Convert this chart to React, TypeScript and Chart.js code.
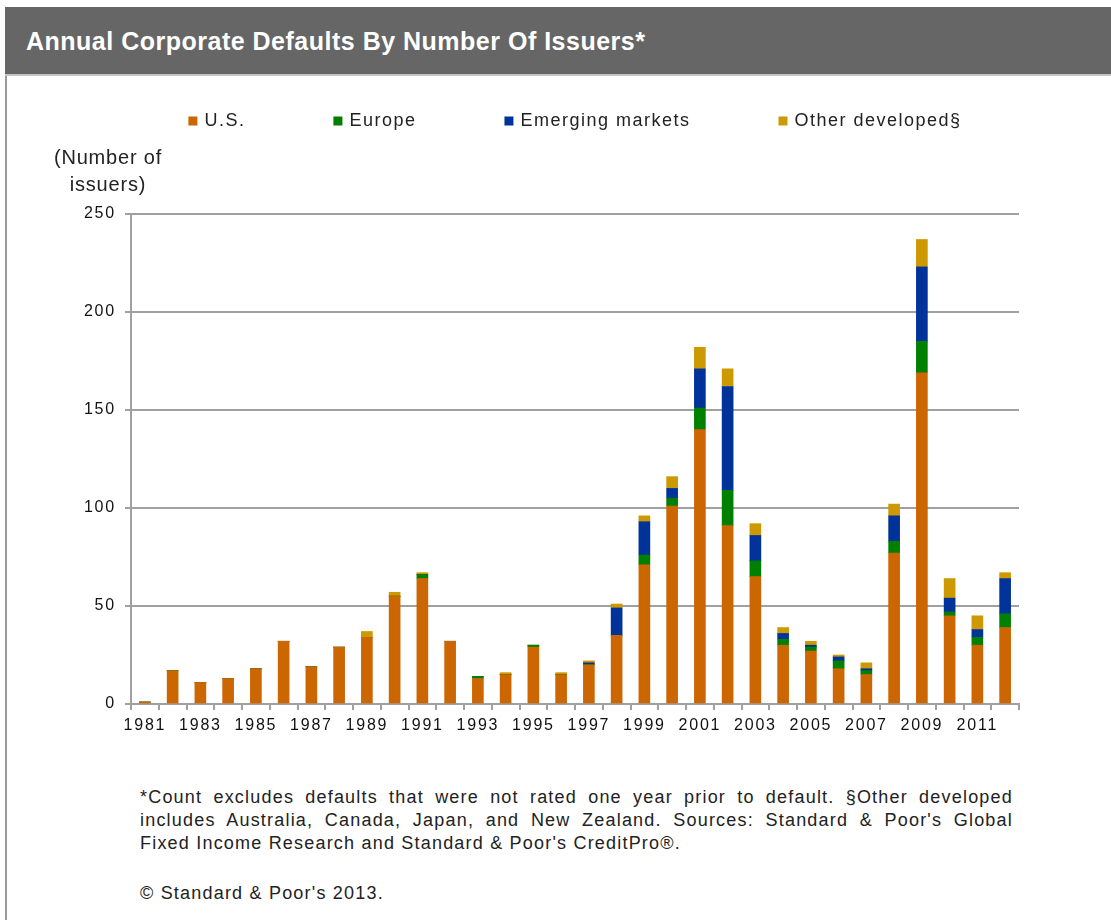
import React, { useEffect, useRef } from 'react';
import { Chart, registerables } from 'chart.js';

Chart.register(...registerables);

// ---- Data ----
const years = [
  '1981', '1982', '1983', '1984', '1985', '1986', '1987', '1988', '1989', '1990',
  '1991', '1992', '1993', '1994', '1995', '1996', '1997', '1998', '1999', '2000',
  '2001', '2002', '2003', '2004', '2005', '2006', '2007', '2008', '2009', '2010',
  '2011', '2012',
];
const usDefaults = [1, 17, 11, 13, 18, 32, 19, 29, 34, 55, 64, 32, 13, 15, 29, 15, 20, 35, 71, 101, 140, 91, 65, 30, 27, 18, 15, 77, 169, 45, 30, 39];
const europeDefaults = [0, 0, 0, 0, 0, 0, 0, 0, 0, 0, 2, 0, 1, 0, 1, 0, 0, 0, 5, 4, 11, 18, 8, 3, 2, 4, 2, 6, 16, 2, 4, 7];
const emergingDefaults = [0, 0, 0, 0, 0, 0, 0, 0, 0, 0, 0, 0, 0, 0, 0, 0, 1, 14, 17, 5, 20, 53, 13, 3, 1, 2, 1, 13, 38, 7, 4, 18];
const otherDefaults = [0, 0, 0, 0, 0, 0, 0, 0, 3, 2, 1, 0, 0, 1, 0, 1, 1, 2, 3, 6, 11, 9, 6, 3, 2, 1, 3, 6, 14, 10, 7, 3];
const seriesLabels = ['U.S.', 'Europe', 'Emerging markets', 'Other developed§'];
const seriesColors = ['#CC6600', '#008000', '#003399', '#CC9900'];
const yMin = 0;
const yMax = 250;
const yStep = 50;

const FONT = '"Liberation Sans", Arial, Helvetica, sans-serif';
const GRID = '#a0a0a0';

const spacingPlugin = {
  id: 'letterSpacing',
  beforeDraw(chart: any) {
    chart.ctx.letterSpacing = '1.8px';
  },
};

const legendPlugin = {
  id: 'customLegend',
  afterDraw(chart: any) {
    const { ctx, chartArea } = chart;
    ctx.save();
    ctx.font = '18px ' + FONT;
    ctx.letterSpacing = '1.5px';
    ctx.textAlign = 'left';
    ctx.textBaseline = 'alphabetic';
    const box = 9;
    const gap = 7;
    const spacing = 88;
    const items = chart.data.datasets.map((ds: any) => ({
      text: ds.label,
      color: ds.backgroundColor,
      w: ctx.measureText(ds.label).width,
    }));
    const total = items.reduce((s: number, it: any) => s + box + gap + it.w, 0) + spacing * (items.length - 1);
    let x = (chartArea.left + chartArea.right) / 2 - total / 2;
    const baseY = 45.5;
    items.forEach((it: any) => {
      ctx.fillStyle = it.color;
      ctx.fillRect(x, baseY - box, box, box);
      x += box + gap;
      ctx.fillStyle = '#222';
      ctx.fillText(it.text, x, baseY);
      x += it.w + spacing;
    });
    ctx.restore();
  },
};

function DefaultsChart() {
  const ref = useRef<HTMLCanvasElement | null>(null);
  useEffect(() => {
    if (!ref.current) return;
    const values = [usDefaults, europeDefaults, emergingDefaults, otherDefaults];
    const chart = new Chart(ref.current, {
      type: 'bar',
      data: {
        labels: years,
        datasets: values.map((v, i) => ({
          label: seriesLabels[i],
          data: v,
          backgroundColor: seriesColors[i],
          borderWidth: 0,
          barThickness: 11,
        })),
      },
      options: {
        animation: false,
        responsive: false,
        devicePixelRatio: 1,
        layout: { padding: { top: 134, right: 92, bottom: 16, left: 0 } },
        plugins: {
          legend: { display: false },
          tooltip: { enabled: false },
          title: { display: false },
        },
        scales: {
          x: {
            stacked: true,
            offset: true,
            afterFit(scale: any) { scale.height = 40; },
            grid: {
              offset: true,
              drawOnChartArea: false,
              drawTicks: true,
              tickLength: 6,
              color: GRID,
              lineWidth: 2,
            },
            border: { display: true, color: GRID, width: 2 },
            ticks: {
              autoSkip: false,
              maxRotation: 0,
              minRotation: 0,
              padding: 6,
              color: '#111',
              font: { family: FONT, size: 16 },
              callback: (_v: any, idx: number) => (idx % 2 === 0 ? years[idx] : ''),
            },
          },
          y: {
            stacked: true,
            min: yMin,
            max: yMax,
            afterFit(scale: any) { scale.width = 131; },
            grid: {
              drawTicks: true,
              tickLength: 6,
              color: GRID,
              lineWidth: 2,
            },
            border: { display: true, color: GRID, width: 2 },
            ticks: {
              stepSize: yStep,
              padding: 9,
              color: '#111',
              font: { family: FONT, size: 16 },
            },
          },
        },
      },
      plugins: [spacingPlugin, legendPlugin],
    } as any);
    return () => chart.destroy();
  }, []);
  return (
    <canvas
      ref={ref}
      width={1111}
      height={680}
      style={{ position: 'absolute', left: 0, top: 80, width: 1111, height: 680 }}
    />
  );
}

export default function App() {
  return (
    <div
      style={{
        position: 'absolute',
        left: 0,
        top: 0,
        width: 1111,
        height: 920,
        background: '#fff',
        overflow: 'hidden',
        fontFamily: FONT,
      }}
    >
      <div
        style={{
          position: 'absolute',
          left: 5,
          top: 7,
          width: 1106,
          height: 67,
          background: '#666666',
          borderBottom: '2px solid #c4c4c4',
          boxSizing: 'content-box',
        }}
      >
        <div
          style={{
            position: 'absolute',
            left: 21,
            top: 1,
            lineHeight: '67px',
            color: '#fff',
            fontWeight: 'bold',
            fontSize: 25,
            letterSpacing: '0.5px',
            whiteSpace: 'nowrap',
          }}
        >
          Annual Corporate Defaults By Number Of Issuers*
        </div>
      </div>
      <div style={{ position: 'absolute', left: 5, top: 76, width: 2, height: 844, background: '#9a9a9a' }} />
      <DefaultsChart />
      <div
        style={{
          position: 'absolute',
          left: 28,
          top: 144,
          width: 160,
          textAlign: 'center',
          fontSize: 20,
          lineHeight: '27px',
          letterSpacing: '0.8px',
          color: '#222',
        }}
      >
        (Number of
        <br />
        issuers)
      </div>
      <div
        style={{
          position: 'absolute',
          left: 140,
          top: 786,
          width: 873,
          fontSize: 18,
          lineHeight: '23px',
          letterSpacing: '1.2px',
          color: '#222',
        }}
      >
        <div style={{ textAlign: 'justify', textAlignLast: 'justify', whiteSpace: 'nowrap' as any }}>
          *Count excludes defaults that were not rated one year prior to default. §Other developed
        </div>
        <div style={{ textAlign: 'justify', textAlignLast: 'justify', whiteSpace: 'nowrap' as any }}>
          includes Australia, Canada, Japan, and New Zealand. Sources: Standard &amp; Poor's Global
        </div>
        <div>Fixed Income Research and Standard &amp; Poor's CreditPro®.</div>
        <div style={{ marginTop: 27 }}>© Standard &amp; Poor's 2013.</div>
      </div>
    </div>
  );
}
